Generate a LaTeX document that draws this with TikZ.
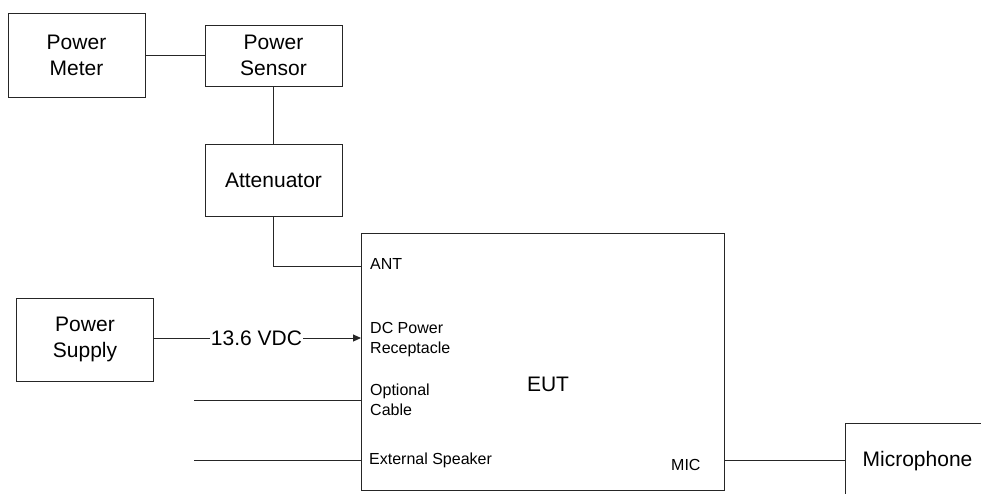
\documentclass[tikz,border=0pt]{standalone}
\usepackage{fontspec}
\setmainfont{Liberation Sans}
\usetikzlibrary{arrows.meta}
\begin{document}
\begin{tikzpicture}[x=1pt,y=-1pt,
  box/.style={draw=black!85,line width=1pt,rectangle,inner sep=0pt,align=center,
    font=\fontsize{21}{26}\selectfont},
  port/.style={anchor=west,inner sep=0pt,align=left,font=\fontsize{16}{20}\selectfont},
  wire/.style={draw=black!85,line width=1pt}]
\useasboundingbox (0,0) rectangle (981,493);
\clip (0,0) rectangle (981,493);
\node[box,minimum width=137pt,minimum height=84pt] (pm) at (76.5,55) {Power\\Meter};
\node[box,minimum width=137pt,minimum height=61pt] (ps) at (273.5,55.5) {Power\\Sensor};
\node[box,minimum width=137pt,minimum height=72pt] (att) at (273.5,180) {Attenuator};
\node[box,minimum width=137pt,minimum height=83pt] (psu) at (85,339.5) {Power\\Supply};
\node[box,minimum width=363pt,minimum height=257pt] (eut) at (542.5,361.5) {};
\node[font=\fontsize{21}{26}\selectfont,inner sep=0pt] (eutl) at (548,384) {EUT};
\node[box,minimum width=145pt,minimum height=77pt] (mph) at (917.5,461.5) {Microphone};
% ports
\coordinate (antp) at (361,266);
\coordinate (dcp) at (361,338);
\coordinate (ocp) at (361,400);
\coordinate (esp) at (361,460);
\coordinate (micp) at (724,460);
\coordinate (ocf) at (194,400);
\coordinate (esf) at (194,460);
\node[port] (antl) at (370,264) {ANT};
\node[port] (dcl) at (370,339.5) {DC Power\\Receptacle};
\node[port] (ocl) at (370,399.5) {Optional\\Cable};
\node[port] (esl) at (369,460) {External Speaker};
\node[port] (micl) at (671,465) {MIC};
% wires
\draw[wire] (pm.east) -- (pm.east -| ps.west);
\draw[wire] (ps.south) -- (att.north);
\draw[wire] (att.south) |- (antp);
\draw[wire,-{Triangle[length=8pt,width=7pt]}] (psu.east |- dcp) -- (dcp);
\node[fill=white,inner xsep=1pt,inner ysep=0pt,font=\fontsize{21}{26}\selectfont] (vdc) at (256.5,338) {13.6 VDC};
\draw[wire] (ocf) -- (ocp);
\draw[wire] (esf) -- (esp);
\draw[wire] (micp) -- (micp -| mph.west);
\end{tikzpicture}
\end{document}
